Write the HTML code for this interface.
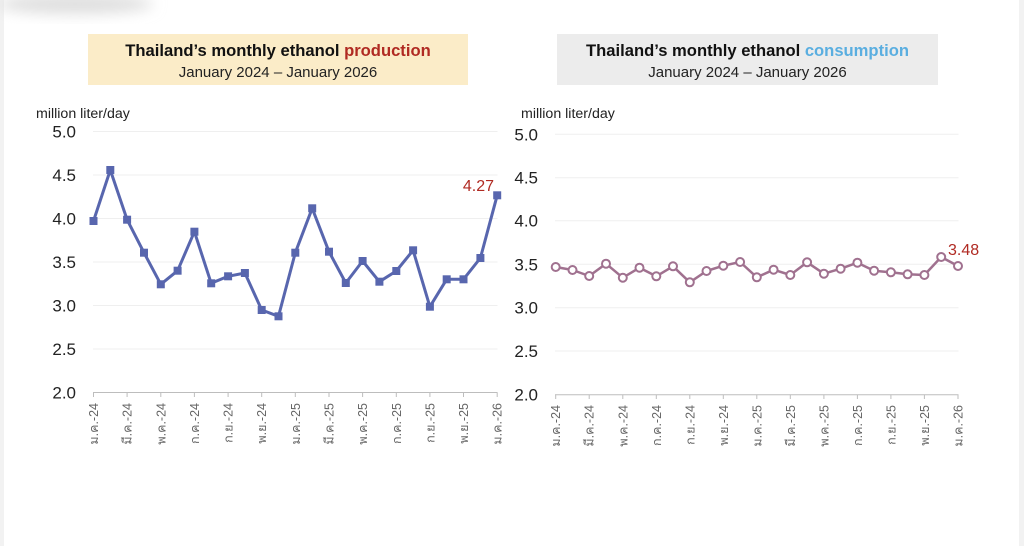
<!DOCTYPE html>
<html><head><meta charset="utf-8">
<style>
html,body{margin:0;padding:0;background:#fff;}
body{width:1024px;height:546px;overflow:hidden;position:relative;font-family:"Liberation Sans","DejaVu Sans",sans-serif;}
</style></head>
<body>
<svg width="1024" height="546" viewBox="0 0 1024 546" xmlns="http://www.w3.org/2000/svg" style="position:absolute;left:0;top:0">
<defs>
<filter id="blur" x="-50%" y="-50%" width="200%" height="200%"><feGaussianBlur stdDeviation="7"/></filter>
</defs>
<rect x="0" y="0" width="1024" height="546" fill="#fff"/>
<rect x="0" y="0" width="4" height="546" fill="#f2f2f2"/>
<rect x="1019" y="0" width="5" height="546" fill="#f2f2f2"/>
<ellipse cx="75" cy="4" rx="78" ry="10" fill="#dedede" filter="url(#blur)"/>

<!-- Title boxes -->
<rect x="88" y="34" width="380" height="51" fill="#fbecc8"/>
<text x="278" y="56" text-anchor="middle" font-family="Liberation Sans, sans-serif" font-size="16.6" font-weight="bold" fill="#111">Thailand’s monthly ethanol <tspan fill="#b02a22">production</tspan></text>
<text x="278" y="77" text-anchor="middle" font-family="Liberation Sans, sans-serif" font-size="15" fill="#222">January 2024 – January 2026</text>

<rect x="557" y="34" width="381" height="51" fill="#ececec"/>
<text x="747.5" y="56" text-anchor="middle" font-family="Liberation Sans, sans-serif" font-size="16.6" font-weight="bold" fill="#111">Thailand’s monthly ethanol <tspan fill="#5aaee0">consumption</tspan></text>
<text x="747.5" y="77" text-anchor="middle" font-family="Liberation Sans, sans-serif" font-size="15" fill="#222">January 2024 – January 2026</text>

<!-- LEFT CHART -->
<text x="36" y="118" font-size="14.2" fill="#222">million liter/day</text>
<g stroke="#efefef" stroke-width="1">
<line x1="93" y1="131.5" x2="497.5" y2="131.5"/>
<line x1="93" y1="175" x2="497.5" y2="175"/>
<line x1="93" y1="218.5" x2="497.5" y2="218.5"/>
<line x1="93" y1="262" x2="497.5" y2="262"/>
<line x1="93" y1="305.5" x2="497.5" y2="305.5"/>
<line x1="93" y1="349" x2="497.5" y2="349"/>
</g>
<g font-size="17" fill="#222" text-anchor="end">
<text x="76" y="137.5">5.0</text>
<text x="76" y="181">4.5</text>
<text x="76" y="224.5">4.0</text>
<text x="76" y="268">3.5</text>
<text x="76" y="311.5">3.0</text>
<text x="76" y="355">2.5</text>
<text x="76" y="398.5">2.0</text>
</g>
<line x1="93" y1="392.5" x2="497.5" y2="392.5" stroke="#bdbdbd" stroke-width="1"/>
<g stroke="#bdbdbd" stroke-width="1">
<line x1="93.5" y1="392.5" x2="93.5" y2="397"/>
<line x1="127.1" y1="392.5" x2="127.1" y2="397"/>
<line x1="160.8" y1="392.5" x2="160.8" y2="397"/>
<line x1="194.4" y1="392.5" x2="194.4" y2="397"/>
<line x1="228.1" y1="392.5" x2="228.1" y2="397"/>
<line x1="261.7" y1="392.5" x2="261.7" y2="397"/>
<line x1="295.3" y1="392.5" x2="295.3" y2="397"/>
<line x1="329.0" y1="392.5" x2="329.0" y2="397"/>
<line x1="362.6" y1="392.5" x2="362.6" y2="397"/>
<line x1="396.3" y1="392.5" x2="396.3" y2="397"/>
<line x1="429.9" y1="392.5" x2="429.9" y2="397"/>
<line x1="463.5" y1="392.5" x2="463.5" y2="397"/>
<line x1="497.2" y1="392.5" x2="497.2" y2="397"/>
</g>
<g font-size="12.5" fill="#666" text-anchor="end">
<text transform="translate(98,403) rotate(-90)">ม.ค.-24</text>
<text transform="translate(131.6,403) rotate(-90)">มี.ค.-24</text>
<text transform="translate(165.3,403) rotate(-90)">พ.ค.-24</text>
<text transform="translate(198.9,403) rotate(-90)">ก.ค.-24</text>
<text transform="translate(232.6,403) rotate(-90)">ก.ย.-24</text>
<text transform="translate(266.2,403) rotate(-90)">พ.ย.-24</text>
<text transform="translate(299.8,403) rotate(-90)">ม.ค.-25</text>
<text transform="translate(333.5,403) rotate(-90)">มี.ค.-25</text>
<text transform="translate(367.1,403) rotate(-90)">พ.ค.-25</text>
<text transform="translate(400.8,403) rotate(-90)">ก.ค.-25</text>
<text transform="translate(434.4,403) rotate(-90)">ก.ย.-25</text>
<text transform="translate(468,403) rotate(-90)">พ.ย.-25</text>
<text transform="translate(501.7,403) rotate(-90)">ม.ค.-26</text>
</g>
<polyline fill="none" stroke="#5866ae" stroke-width="3" stroke-linejoin="round"
points="93.5,221 110.3,170 127.1,219.7 144.0,252.7 160.8,284.3 177.6,270.7 194.4,231.7 211.2,283.3 228.1,276.3 244.9,273 261.7,310 278.5,316.3 295.3,252.7 312.2,208.3 329.0,251.7 345.8,283 362.6,261 379.4,281.7 396.3,271 413.1,250.3 429.9,306.7 446.7,279.3 463.5,279.3 480.4,258 497.2,195.3"/>
<g fill="#5866ae">
<rect x="89.5" y="217" width="8" height="8"/>
<rect x="106.3" y="166" width="8" height="8"/>
<rect x="123.1" y="215.7" width="8" height="8"/>
<rect x="140.0" y="248.7" width="8" height="8"/>
<rect x="156.8" y="280.3" width="8" height="8"/>
<rect x="173.6" y="266.7" width="8" height="8"/>
<rect x="190.4" y="227.7" width="8" height="8"/>
<rect x="207.2" y="279.3" width="8" height="8"/>
<rect x="224.1" y="272.3" width="8" height="8"/>
<rect x="240.9" y="269" width="8" height="8"/>
<rect x="257.7" y="306" width="8" height="8"/>
<rect x="274.5" y="312.3" width="8" height="8"/>
<rect x="291.3" y="248.7" width="8" height="8"/>
<rect x="308.2" y="204.3" width="8" height="8"/>
<rect x="325.0" y="247.7" width="8" height="8"/>
<rect x="341.8" y="279" width="8" height="8"/>
<rect x="358.6" y="257" width="8" height="8"/>
<rect x="375.4" y="277.7" width="8" height="8"/>
<rect x="392.3" y="267" width="8" height="8"/>
<rect x="409.1" y="246.3" width="8" height="8"/>
<rect x="425.9" y="302.7" width="8" height="8"/>
<rect x="442.7" y="275.3" width="8" height="8"/>
<rect x="459.5" y="275.3" width="8" height="8"/>
<rect x="476.4" y="254" width="8" height="8"/>
<rect x="493.2" y="191.3" width="8" height="8"/>
</g>
<text x="494" y="191" text-anchor="end" font-size="16" fill="#b02a22">4.27</text>

<!-- RIGHT CHART -->
<text x="521" y="118" font-size="14.2" fill="#222">million liter/day</text>
<g stroke="#efefef" stroke-width="1">
<line x1="555" y1="134.3" x2="958.5" y2="134.3"/>
<line x1="555" y1="177.7" x2="958.5" y2="177.7"/>
<line x1="555" y1="220.7" x2="958.5" y2="220.7"/>
<line x1="555" y1="264.3" x2="958.5" y2="264.3"/>
<line x1="555" y1="307.7" x2="958.5" y2="307.7"/>
<line x1="555" y1="351" x2="958.5" y2="351"/>
</g>
<g font-size="17" fill="#222" text-anchor="end">
<text x="538" y="140.3">5.0</text>
<text x="538" y="183.7">4.5</text>
<text x="538" y="226.7">4.0</text>
<text x="538" y="270.3">3.5</text>
<text x="538" y="313.7">3.0</text>
<text x="538" y="357">2.5</text>
<text x="538" y="400.7">2.0</text>
</g>
<line x1="555" y1="394.7" x2="958.5" y2="394.7" stroke="#bdbdbd" stroke-width="1"/>
<g stroke="#bdbdbd" stroke-width="1">
<line x1="555.7" y1="394.7" x2="555.7" y2="399"/>
<line x1="589.2" y1="394.7" x2="589.2" y2="399"/>
<line x1="622.8" y1="394.7" x2="622.8" y2="399"/>
<line x1="656.3" y1="394.7" x2="656.3" y2="399"/>
<line x1="689.8" y1="394.7" x2="689.8" y2="399"/>
<line x1="723.3" y1="394.7" x2="723.3" y2="399"/>
<line x1="756.8" y1="394.7" x2="756.8" y2="399"/>
<line x1="790.3" y1="394.7" x2="790.3" y2="399"/>
<line x1="823.9" y1="394.7" x2="823.9" y2="399"/>
<line x1="857.4" y1="394.7" x2="857.4" y2="399"/>
<line x1="890.9" y1="394.7" x2="890.9" y2="399"/>
<line x1="924.4" y1="394.7" x2="924.4" y2="399"/>
<line x1="958.0" y1="394.7" x2="958.0" y2="399"/>
</g>
<g font-size="12.5" fill="#666" text-anchor="end">
<text transform="translate(560.2,405) rotate(-90)">ม.ค.-24</text>
<text transform="translate(593.7,405) rotate(-90)">มี.ค.-24</text>
<text transform="translate(627.3,405) rotate(-90)">พ.ค.-24</text>
<text transform="translate(660.8,405) rotate(-90)">ก.ค.-24</text>
<text transform="translate(694.3,405) rotate(-90)">ก.ย.-24</text>
<text transform="translate(727.8,405) rotate(-90)">พ.ย.-24</text>
<text transform="translate(761.3,405) rotate(-90)">ม.ค.-25</text>
<text transform="translate(794.8,405) rotate(-90)">มี.ค.-25</text>
<text transform="translate(828.4,405) rotate(-90)">พ.ค.-25</text>
<text transform="translate(861.9,405) rotate(-90)">ก.ค.-25</text>
<text transform="translate(895.4,405) rotate(-90)">ก.ย.-25</text>
<text transform="translate(928.9,405) rotate(-90)">พ.ย.-25</text>
<text transform="translate(962.5,405) rotate(-90)">ม.ค.-26</text>
</g>
<polyline fill="none" stroke="#a0718f" stroke-width="2.5" stroke-linejoin="round"
points="555.7,267 572.5,270 589.2,276 606.0,263.7 622.8,277.7 639.5,267.7 656.3,276.3 673.0,266.3 689.8,282.3 706.5,271 723.3,265.7 740.1,262 756.8,277.3 773.6,269.7 790.3,275 807.1,262.3 823.9,273.7 840.6,268.7 857.4,262.7 874.1,270.7 890.9,272.3 907.6,274.3 924.4,275 941.2,257 958.0,266"/>
<g fill="#fff" stroke="#a0718f" stroke-width="2">
<circle cx="555.7" cy="267" r="4"/>
<circle cx="572.5" cy="270" r="4"/>
<circle cx="589.2" cy="276" r="4"/>
<circle cx="606.0" cy="263.7" r="4"/>
<circle cx="622.8" cy="277.7" r="4"/>
<circle cx="639.5" cy="267.7" r="4"/>
<circle cx="656.3" cy="276.3" r="4"/>
<circle cx="673.0" cy="266.3" r="4"/>
<circle cx="689.8" cy="282.3" r="4"/>
<circle cx="706.5" cy="271" r="4"/>
<circle cx="723.3" cy="265.7" r="4"/>
<circle cx="740.1" cy="262" r="4"/>
<circle cx="756.8" cy="277.3" r="4"/>
<circle cx="773.6" cy="269.7" r="4"/>
<circle cx="790.3" cy="275" r="4"/>
<circle cx="807.1" cy="262.3" r="4"/>
<circle cx="823.9" cy="273.7" r="4"/>
<circle cx="840.6" cy="268.7" r="4"/>
<circle cx="857.4" cy="262.7" r="4"/>
<circle cx="874.1" cy="270.7" r="4"/>
<circle cx="890.9" cy="272.3" r="4"/>
<circle cx="907.6" cy="274.3" r="4"/>
<circle cx="924.4" cy="275" r="4"/>
<circle cx="941.2" cy="257" r="4"/>
<circle cx="958.0" cy="266" r="4"/>
</g>
<text x="948" y="255" font-size="16" fill="#b02a22">3.48</text>
</svg>
</body></html>
